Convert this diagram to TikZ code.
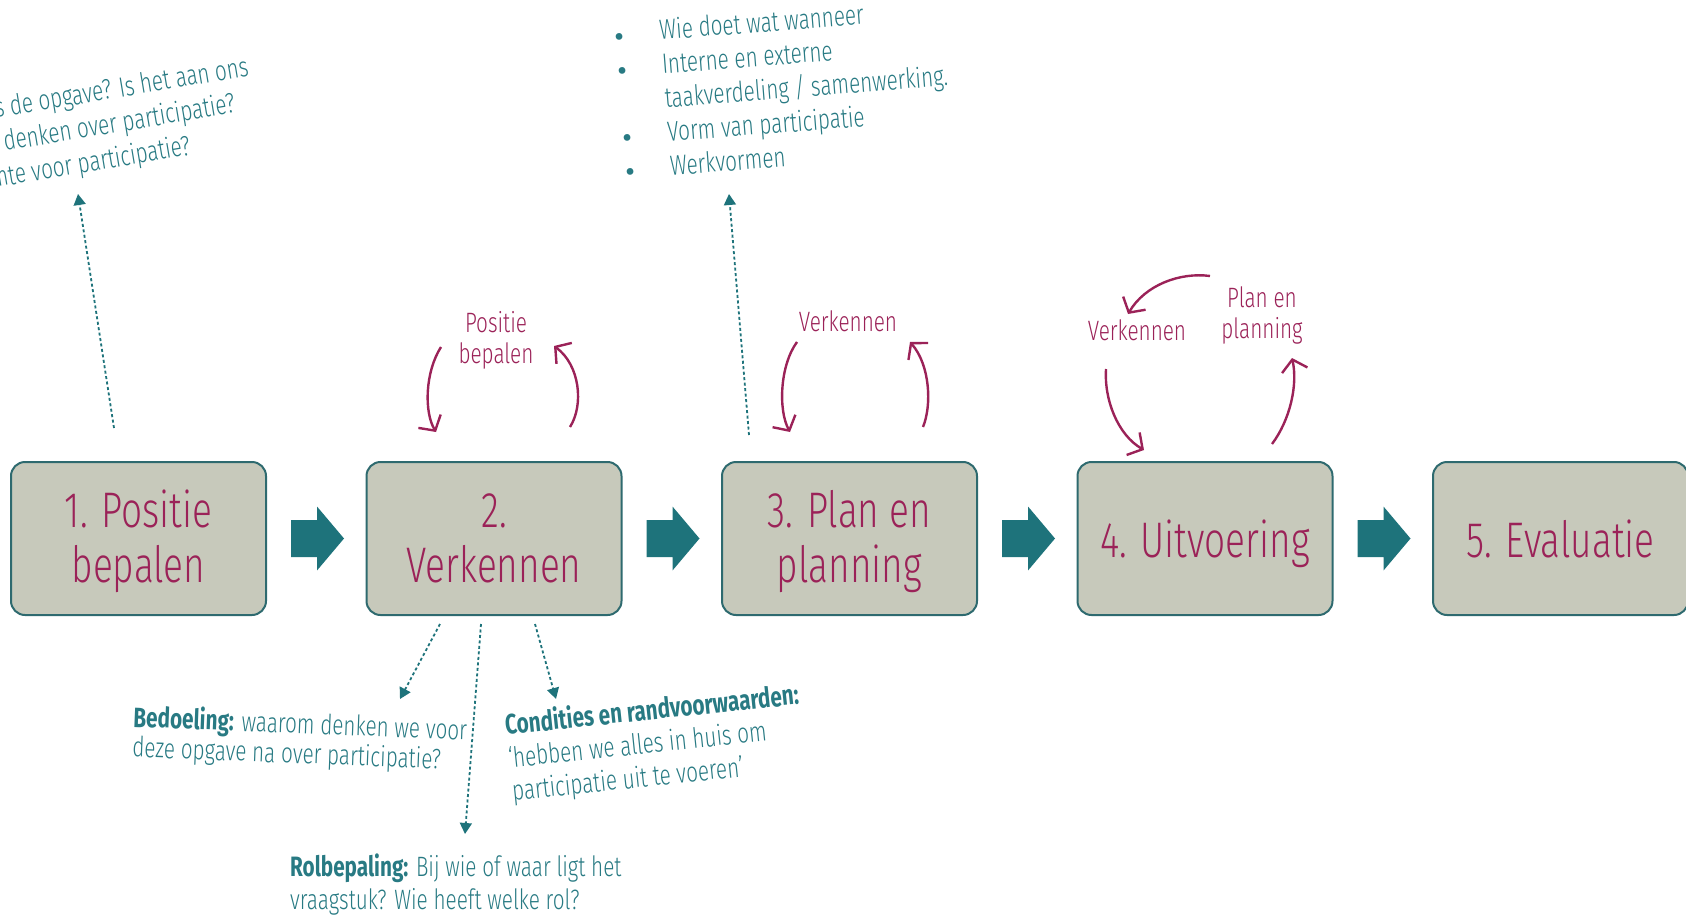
\documentclass[tikz,border=0pt]{standalone}
\usepackage{fontspec}
\setmainfont{Fira Sans}
\newfontfamily\cond[FakeStretch=0.74, UprightFont={* Light}, BoldFont={* Bold}]{Fira Sans}
\usetikzlibrary{arrows.meta,calc}
\definecolor{wine}{HTML}{9B2258}
\definecolor{petrol}{HTML}{1E737B}
\definecolor{notecol}{HTML}{287A83}
\definecolor{boxfill}{HTML}{C7C9BB}
\definecolor{boxline}{HTML}{2E6A6F}
% invisible struts that fix the vertical placement of the stage titles
\newcommand\stagetop[1]{\rule{0pt}{#1}}
\newcommand\stagebot{\rule[-12pt]{0pt}{12pt}}
\begin{document}
\begin{tikzpicture}[x=1pt,y=-1pt,
  stage/.style={draw=boxline, line width=2pt, fill=boxfill, rounded corners=14pt,
    minimum width=255pt, minimum height=153pt, inner sep=0pt, align=center,
    text=wine, font=\cond\fontsize{50}{55}\selectfont},
  flow/.style={fill=petrol},
  loopArrow/.style={draw=wine, line width=2.4pt,
    -{Straight Barb[length=11pt,width=26pt,line width=2.4pt]}},
  loopLabel/.style={text=wine, font=\cond\fontsize{28}{31}\selectfont,
    align=center, inner sep=0pt},
  noteArrow/.style={draw=petrol, line width=1.8pt, dash pattern=on 3pt off 2.5pt,
    -{Triangle[width=12pt,length=11pt]}},
  % multi-line notes: the base anchor sits on the baseline of the last line
  noteText/.style={text=notecol, font=\cond\fontsize{28}{#1}\selectfont,
    inner sep=0pt, anchor=base west, align=left},
  noteText/.default=33,
  dot/.style={text=notecol, font=\fontsize{30}{30}\selectfont, inner sep=0pt},
]
\useasboundingbox (0,0) rectangle (1686,923);
\clip (0,0) rectangle (1686,923);

% the five process stages
\node[stage] (s1) at (138.5,538.5) {\stagetop{44pt}1. Positie\\bepalen\stagebot};
\node[stage] (s2) at (494,538.5)   {\stagetop{44pt}2.\\Verkennen\stagebot};
\node[stage] (s3) at (849.5,538.5) {\stagetop{44pt}3. Plan en\\planning\stagebot};
\node[stage] (s4) at (1205,538.5)  {\stagetop{49pt}4. Uitvoering\stagebot};
\node[stage] (s5) at (1560.5,538.5){\stagetop{49pt}5. Evaluatie\stagebot};

% block arrows between consecutive stages
\foreach \a/\b in {s1/s2,s2/s3,s3/s4,s4/s5}
  \fill[flow] ($(\a.east)+(24,-18.5)$) -- ++(26,0) -- ++(0,-13.5)
    -- ($(\b.west)+(-21.5,0)$) -- ($(\a.east)+(50,32)$) -- ++(0,-13.5)
    -- ++(-26,0) -- cycle;

% questions belonging to stage 1
\node[noteText, rotate=9.5] (q1) at (-4,118) {s de opgave? Is het aan ons};
\node[noteText, rotate=9.5] (q2) at (5,151)  {denken over participatie?};
\node[noteText, rotate=9.5] (q3) at (-8,188) {mte voor participatie?};
\coordinate (n1s) at ($(s1.north)+(-24.5,-33)$);
\coordinate (n1e) at (78,194);
\draw[noteArrow] (n1s) -- (n1e);

% stage 2 elaborations
\coordinate (n2a) at ($(s2.south)+(-54,8)$);
\coordinate (n2b) at ($(s2.south)+(-13,8)$);
\coordinate (n2c) at ($(s2.south)+(41,8)$);
\coordinate (t2a) at (400,699);
\coordinate (t2b) at (465,834);
\coordinate (t2c) at (556,699);
\draw[noteArrow] (n2a) -- (t2a);
\draw[noteArrow] (n2b) -- (t2b);
\draw[noteArrow] (n2c) -- (t2c);

\begin{scope}[shift={(133,727)}, rotate=-2.2, transform shape]
  \node[noteText=30] (bed) at (0,30)
    {\textbf{Bedoeling:} waarom denken we voor\\deze opgave na over participatie?};
\end{scope}

\begin{scope}[shift={(506,735)}, rotate=6, transform shape]
  \node[noteText=33] (con) at (0,66)
    {\textbf{Condities en randvoorwaarden:}\\‘hebben we alles in huis om\\participatie uit te voeren’};
\end{scope}

\node[noteText=33] (rol) at (290,909)
  {\textbf{Rolbepaling:} Bij wie of waar ligt het\\vraagstuk? Wie heeft welke rol?};

% stage 3 checklist
\begin{scope}[shift={(660,40)}, rotate=4.5, transform shape]
  \node[noteText=34] (list) at (0,136)
    {Wie doet wat wanneer\\Interne en externe\\taakverdeling / samenwerking.\\Vorm van participatie\\Werkvormen};
  \node[dot] (d1) at (-40,-3)  {•};
  \node[dot] (d2) at (-40,31)  {•};
  \node[dot] (d3) at (-40,99)  {•};
  \node[dot] (d4) at (-40,133) {•};
\end{scope}
\coordinate (n3s) at ($(s3.north)+(-100.5,-26)$);
\coordinate (n3e) at (729,194);
\draw[noteArrow] (n3s) -- (n3e);

% iteration loops above stages 2, 3 and 4
\node[loopLabel] (l2) at (496,340) {Positie\\bepalen};
\draw[loopArrow] (441,347) .. controls (425,372) and (424,412) .. (436,432);
\draw[loopArrow] (570,427) .. controls (584,405) and (580,365) .. (554,346);

\node[loopLabel, anchor=base] (l3) at (848,331) {Verkennen};
\draw[loopArrow] (797,342) .. controls (780,365) and (778,410) .. (790,432);
\draw[loopArrow] (923,427) .. controls (932,405) and (930,365) .. (910,342);

\node[loopLabel, anchor=base] (l4a) at (1137,340) {Verkennen};
\node[loopLabel] (l4b) at (1262,315) {Plan en\\planning};
\draw[loopArrow] (1210,276) .. controls (1180,272) and (1145,285) .. (1128,314);
\draw[loopArrow] (1106,369) .. controls (1104,400) and (1118,435) .. (1144,450);
\draw[loopArrow] (1272,444) .. controls (1290,420) and (1298,385) .. (1292,358);
\end{tikzpicture}
\end{document}
